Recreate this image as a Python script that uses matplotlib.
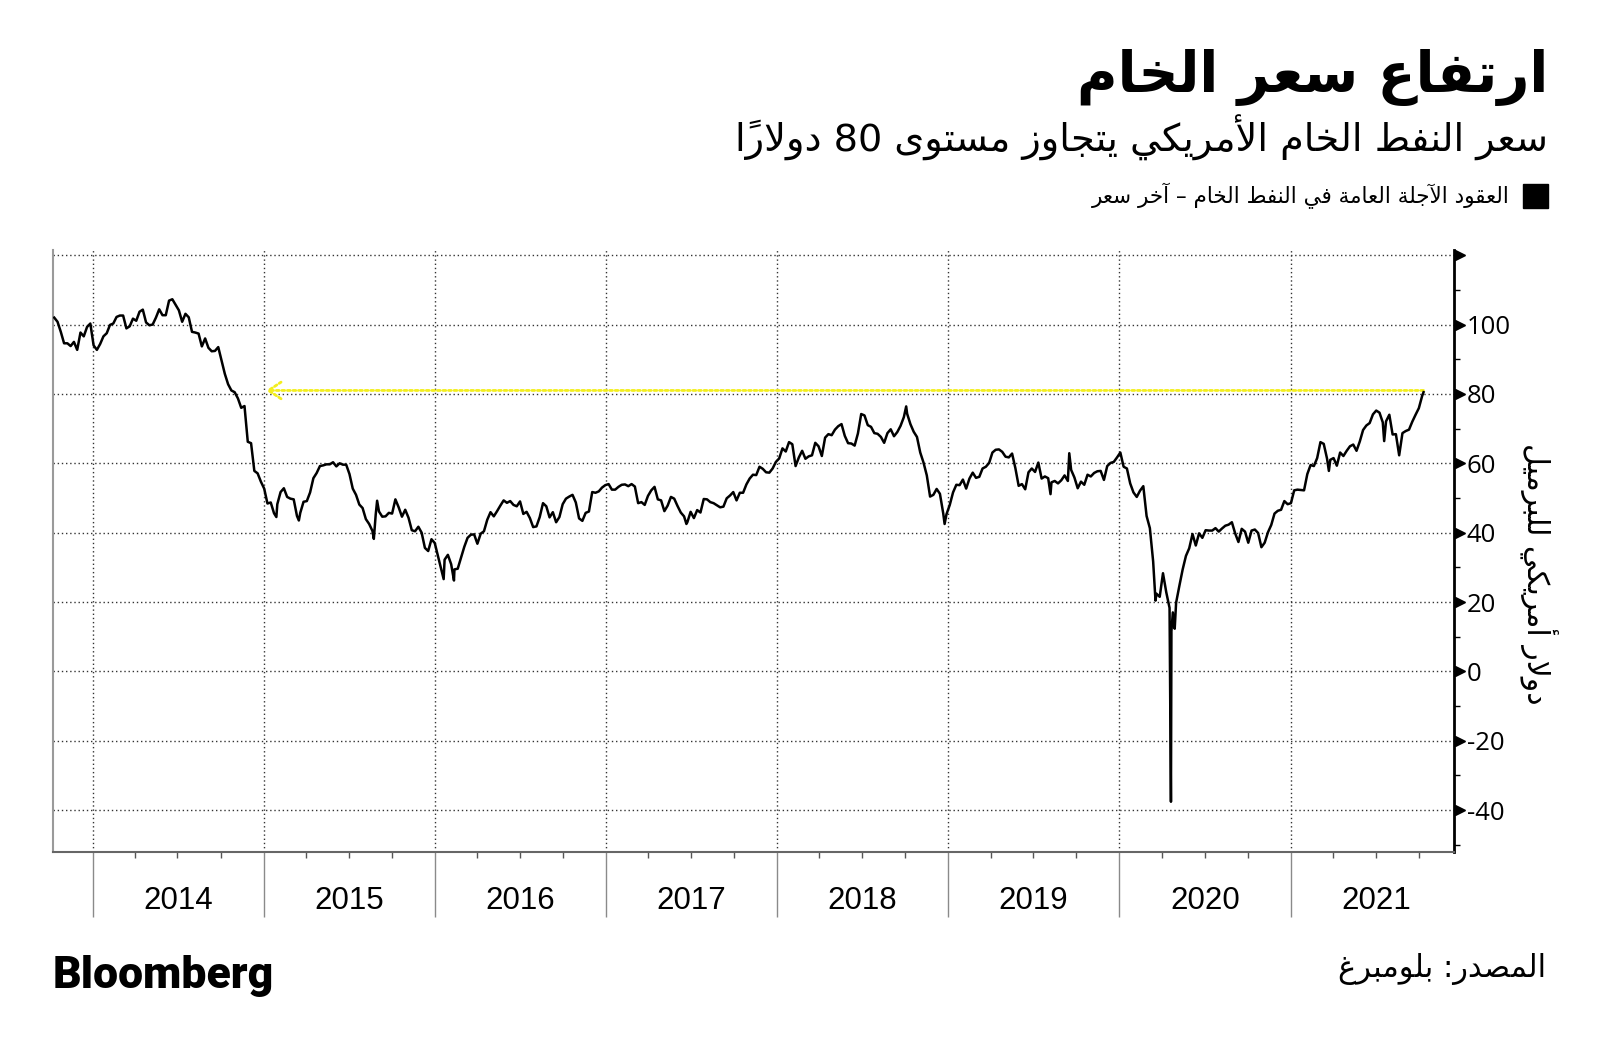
import pandas as pd
import matplotlib
matplotlib.use("Agg")
import matplotlib.pyplot as plt
import matplotlib.dates as mdates
import matplotlib.transforms as mtransforms
from matplotlib.patches import Rectangle
from matplotlib.ticker import FixedLocator

# Generic crude oil futures (WTI), weekly Friday closes, USD/bbl
wti_2013 = [102.0, 100.8, 97.9, 94.6, 94.6, 93.8, 95.0, 92.7, 97.7, 96.6, 99.3, 100.3]
wti_2014 = [94.0, 92.7, 94.4, 96.6, 97.5, 99.9, 100.3, 102.2, 102.6, 102.6, 98.9, 99.5, 101.7,
            101.1, 103.7, 104.3, 100.6, 99.8, 100.0, 102.0, 104.4, 102.7, 102.7, 106.9, 107.3, 105.7,
            104.1, 100.8, 103.1, 102.1, 97.9, 97.7, 97.4, 93.7, 96.0, 93.3, 92.3, 92.4, 93.5,
            89.7, 85.8, 82.8, 81.0, 80.5, 78.7, 76.0, 76.5, 66.2, 65.8, 57.8, 57.1, 54.7]
wti_2015 = [52.7, 48.4, 48.7, 45.6, 48.2, 51.7, 52.8, 50.3, 49.8, 49.6, 44.8, 45.7, 48.9,
            49.1, 51.6, 55.7, 57.2, 59.2, 59.4, 59.7, 59.7, 60.3, 59.1, 60.0, 59.6, 59.6,
            56.9, 52.7, 50.9, 48.1, 47.1, 43.9, 42.5, 40.5, 45.2, 46.1, 44.6, 44.7, 45.7,
            45.5, 49.6, 47.3, 44.6, 46.6, 44.3, 40.7, 40.4, 41.7, 40.0, 35.6, 34.7, 38.1]
wti_2016 = [37.0, 33.2, 29.4, 32.2, 33.6, 30.9, 29.4, 29.6, 32.8, 35.9, 38.5, 39.4, 39.5,
            36.8, 39.7, 40.4, 43.7, 45.9, 44.7, 46.2, 47.8, 49.3, 48.6, 49.1, 48.0, 47.6,
            49.0, 45.4, 46.0, 44.2, 41.6, 41.8, 44.5, 48.5, 47.6, 44.4, 45.9, 43.0, 44.5,
            48.2, 49.8, 50.4, 50.9, 48.7, 44.1, 43.4, 45.7, 46.1, 51.7, 51.5, 51.9, 53.0, 53.7]
wti_2017 = [54.0, 52.4, 52.4, 53.2, 53.8, 53.9, 53.4, 54.0, 53.3, 48.5, 48.8, 48.0, 50.6,
            52.2, 53.2, 49.6, 49.3, 46.2, 47.8, 50.3, 49.8, 47.7, 45.8, 44.7, 43.0, 46.0,
            44.2, 46.5, 45.8, 49.7, 49.6, 48.8, 48.5, 47.9, 47.3, 47.5, 49.9, 50.7, 51.7,
            49.3, 51.5, 51.5, 53.9, 55.6, 56.7, 56.6, 59.0, 58.4, 57.4, 57.3, 58.5, 60.4]
wti_2018 = [61.4, 64.3, 63.4, 66.1, 65.5, 59.2, 61.7, 63.6, 61.3, 62.0, 62.3, 65.9, 64.9,
            62.1, 67.4, 68.4, 68.1, 69.7, 70.7, 71.3, 67.9, 65.8, 65.7, 65.1, 68.6, 74.2,
            73.8, 71.0, 70.5, 68.7, 68.5, 67.6, 65.9, 68.7, 69.8, 67.8, 69.0, 70.8, 73.3,
            74.3, 71.3, 69.1, 67.6, 63.1, 60.2, 56.5, 50.4, 50.9, 52.6, 51.2, 45.6, 45.3]
wti_2019 = [48.0, 51.6, 53.8, 53.7, 55.3, 52.7, 55.6, 57.3, 55.8, 56.1, 58.5, 59.0, 60.1,
            63.1, 63.9, 64.0, 63.3, 61.9, 61.7, 62.8, 58.6, 53.5, 54.0, 52.5, 57.4, 58.5,
            57.5, 60.2, 55.6, 56.2, 55.7, 54.5, 54.9, 54.2, 55.1, 56.5, 54.9, 58.1, 55.9,
            52.8, 54.7, 53.8, 56.7, 56.2, 57.2, 57.7, 57.8, 55.2, 59.2, 60.1, 60.4, 61.7]
wti_2020 = [63.1, 59.0, 58.5, 54.2, 51.6, 50.3, 52.1, 53.4, 44.8, 41.3, 31.7, 22.4, 21.5,
            28.3, 22.8, 18.3, 17.0, 19.8, 24.7, 29.4, 33.3, 35.5, 39.6, 36.3, 39.8, 38.5,
            40.7, 40.6, 40.6, 41.3, 40.3, 41.2, 42.0, 42.3, 43.0, 39.8, 37.3, 41.1, 40.3,
            37.1, 40.6, 40.9, 39.9, 35.8, 37.1, 40.1, 42.2, 45.5, 46.3, 46.6, 49.1, 48.2]
wti_2021 = [48.5, 52.2, 52.4, 52.3, 52.2, 56.9, 59.5, 59.2, 61.5, 66.1, 65.6, 61.4, 61.0,
            61.5, 59.3, 63.1, 62.1, 63.6, 64.9, 65.4, 63.6, 66.3, 69.6, 70.9, 71.6, 74.1,
            75.2, 74.6, 71.8, 72.1, 74.0, 68.3, 68.4, 62.3, 68.7, 69.3, 69.7, 72.0, 74.0,
            75.9, 79.4]
week_starts = ["2013-10-11", "2014-01-03", "2015-01-02", "2016-01-01", "2017-01-06",
               "2018-01-05", "2019-01-04", "2020-01-03", "2021-01-01"]

# daily extremes that the weekly closes miss
extra_dates = ["2015-01-28", "2015-03-17", "2015-08-24", "2015-08-31", "2016-01-20",
               "2016-02-11", "2017-06-21", "2018-10-03", "2018-12-24", "2019-08-07",
               "2019-09-16", "2020-03-18", "2020-04-20", "2020-04-21", "2020-04-27",
               "2020-04-28", "2021-03-23", "2021-07-19", "2021-10-11"]
extra_values = [44.5, 43.5, 38.2, 49.2, 26.6, 26.2, 42.5, 76.4, 42.5, 51.1,
                62.9, 20.4, -37.6, 11.6, 12.8, 12.3, 57.8, 66.4, 80.5]

years = list(range(2014, 2022))
y_ticks = [-40, -20, 0, 20, 40, 60, 80, 100, 120]
y_labels = ["-40", "-20", "0", "20", "40", "60", "80", "100", ""]

title = "ارتفاع سعر الخام"
subtitle = "سعر النفط الخام الأمريكي يتجاوز مستوى 80 دولاراً"
legend_txt = "العقود الآجلة العامة في النفط الخام – آخر سعر"
source_txt = "المصدر: بلومبرغ"
unit_txt = "دولار أمريكي للبرميل"

# --- minimal Arabic shaping (matplotlib has no text shaping / bidi) ---
DUAL = {"ئ": 0xFE89, "ب": 0xFE8F, "ت": 0xFE95, "ث": 0xFE99, "ج": 0xFE9D, "ح": 0xFEA1,
        "خ": 0xFEA5, "س": 0xFEB1, "ش": 0xFEB5, "ص": 0xFEB9, "ض": 0xFEBD, "ط": 0xFEC1,
        "ظ": 0xFEC5, "ع": 0xFEC9, "غ": 0xFECD, "ف": 0xFED1, "ق": 0xFED5, "ك": 0xFED9,
        "ل": 0xFEDD, "م": 0xFEE1, "ن": 0xFEE5, "ه": 0xFEE9, "ي": 0xFEF1}
RIGHT = {"آ": 0xFE81, "أ": 0xFE83, "ؤ": 0xFE85, "إ": 0xFE87, "ا": 0xFE8D, "ة": 0xFE93,
         "د": 0xFEA9, "ذ": 0xFEAB, "ر": 0xFEAD, "ز": 0xFEAF, "و": 0xFEED, "ى": 0xFEEF}
LAM_ALEF = {"آ": 0xFEF5, "أ": 0xFEF7, "إ": 0xFEF9, "ا": 0xFEFB}
MARKS = set("\u064B\u064C\u064D\u064E\u064F\u0650\u0651\u0652")


def shape(s):
    out = []
    i = 0
    while i < len(s):
        c = s[i]
        if c not in DUAL and c not in RIGHT:
            out.append(c)
            i += 1
            continue
        j = i - 1
        while j >= 0 and s[j] in MARKS:
            j -= 1
        prev = j >= 0 and s[j] in DUAL
        k = i + 1
        while k < len(s) and s[k] in MARKS:
            k += 1
        if c == "ل" and k < len(s) and s[k] in LAM_ALEF:
            out.append(chr(LAM_ALEF[s[k]] + (1 if prev else 0)))
            i = k + 1
            continue
        if c in RIGHT:
            out.append(chr(RIGHT[c] + (1 if prev else 0)))
        else:
            nxt = k < len(s) and (s[k] in DUAL or s[k] in RIGHT)
            form = {(False, False): 0, (True, False): 1, (False, True): 2, (True, True): 3}[(prev, nxt)]
            out.append(chr(DUAL[c] + form))
        i += 1
    tokens = []
    for ch in out:
        if ch in MARKS and tokens:
            tokens[-1] += ch
        elif ch.isdigit() and tokens and tokens[-1].isdigit():
            tokens[-1] += ch
        else:
            tokens.append(ch)
    return "".join(reversed(tokens))


# --- series ---
parts = []
for start, vals in zip(week_starts, [wti_2013, wti_2014, wti_2015, wti_2016, wti_2017,
                                     wti_2018, wti_2019, wti_2020, wti_2021]):
    parts.append(pd.Series(vals, index=pd.date_range(start, periods=len(vals), freq="W-FRI")))
parts.append(pd.Series(extra_values, index=pd.to_datetime(extra_dates)))
wti = pd.concat(parts).sort_index()
wti = wti[~wti.index.duplicated(keep="last")]

plt.rcParams["font.family"] = ["DejaVu Sans"]
fig = plt.figure(figsize=(16, 10.53), dpi=100)
W, H = 1600, 1053
ax = fig.add_axes([53.3 / W, 1 - 851.7 / H, (1454 - 53.3) / W, 601.7 / H])

ax.plot(wti.index, wti.values, color="black", lw=1.8, zorder=4)

# yellow dotted arrow at the 80$ level
ax.annotate("", xy=(mdates.date2num(pd.Timestamp("2015-01-06")), 81),
            xytext=(mdates.date2num(pd.Timestamp("2021-10-11")), 81),
            arrowprops=dict(arrowstyle="->,head_length=0.9,head_width=0.6", color="#f3ee1e",
                            lw=2, linestyle=(0, (1, 1)), shrinkA=0, shrinkB=0), zorder=3)

ax.set_xlim(pd.Timestamp("2013-10-09"), pd.Timestamp("2021-12-15"))
ax.set_ylim(-52, 121.5)

year_starts = [mdates.date2num(pd.Timestamp(f"{y}-01-01")) for y in years]
quarters = [mdates.date2num(pd.Timestamp(f"{y}-{m:02d}-01")) for y in years for m in (4, 7, 10)]
ax.xaxis.set_major_locator(FixedLocator(year_starts))
ax.xaxis.set_minor_locator(FixedLocator(quarters))
ax.tick_params(axis="x", which="major", length=47, width=1, color="#8a8a8a", labelbottom=False)
ax.tick_params(axis="x", which="minor", length=4.5, width=1, color="#555555")

ax.yaxis.tick_right()
ax.set_yticks(y_ticks)
ax.set_yticklabels(y_labels)
ax.yaxis.set_minor_locator(FixedLocator([-50, -30, -10, 10, 30, 50, 70, 90, 110]))
ax.tick_params(axis="y", which="major", length=0, pad=9, labelsize=18.5)
ax.tick_params(axis="y", which="minor", length=4.5, width=1, color="black")
for lab in ax.get_yticklabels():
    lab.set_fontfamily("Open Sans")

tri = mtransforms.blended_transform_factory(ax.transAxes, ax.transData)
ax.plot([1.004] * len(y_ticks), y_ticks, transform=tri, marker=">", ms=7, color="black",
        ls="none", clip_on=False, zorder=5)

ax.grid(True, which="major", linestyle=(0, (1, 2)), color="#333333", lw=1)

ax.spines["top"].set_visible(False)
ax.spines["right"].set_color("black")
ax.spines["right"].set_linewidth(2)
ax.spines["left"].set_color("#9a9a9a")
ax.spines["left"].set_linewidth(1.5)
ax.spines["bottom"].set_color("#666666")
ax.spines["bottom"].set_linewidth(1.5)

xlab = mtransforms.blended_transform_factory(ax.transData, ax.transAxes)
for y in years:
    ax.text(mdates.date2num(pd.Timestamp(f"{y}-07-02")), -0.082, str(y), transform=xlab,
            ha="center", va="center", fontsize=22.5, fontfamily="Liberation Sans")

# header, legend, footer
fig.text(1548 / W, 1 - 92 / H, shape(title), ha="right", va="baseline", fontsize=40,
         fontweight="bold")
fig.text(1548 / W, 1 - 138 / H, shape(subtitle), ha="right", va="center", fontsize=27.5)
fig.patches.append(Rectangle((1523 / W, 1 - 208 / H), 25 / W, 24 / H, transform=fig.transFigure,
                             color="black"))
fig.text(1510 / W, 1 - 196 / H, shape(legend_txt), ha="right", va="center", fontsize=15.5)
fig.text(1538 / W, 1 - 574 / H, shape(unit_txt), ha="center", va="center", fontsize=21.5,
         rotation=270)
fig.text(1546 / W, 1 - 969 / H, shape(source_txt), ha="right", va="center", fontsize=22)
fig.text(53 / W, 1 - 976 / H, "Bloomberg", ha="left", va="center", fontsize=32,
         fontfamily="Roboto", fontweight="black")

fig.savefig("out.png", dpi=100, facecolor="white")
